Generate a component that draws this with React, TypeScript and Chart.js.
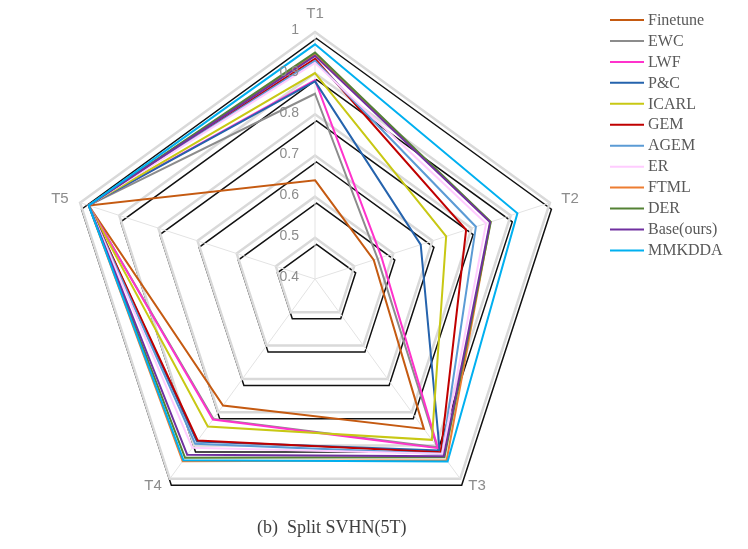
import React, { useEffect, useRef } from 'react';
import { Chart, registerables } from 'chart.js';

Chart.register(...registerables);

const axisLabels = ['T1', 'T2', 'T3', 'T4', 'T5'];
const tickValues = [0.4, 0.5, 0.6, 0.7, 0.8, 0.9, 1];
const tickLabels = ['0.4', '0.5', '0.6', '0.7', '0.8', '0.9', '1'];

const seriesNames = ['Finetune', 'EWC', 'LWF', 'P&C', 'ICARL', 'GEM', 'AGEM', 'ER', 'FTML', 'DER', 'Base(ours)', 'MMKDDA'];
const seriesColors = ['#C55A11', '#8C8C8C', '#FF33CC', '#2563AD', '#C8C814', '#C00000', '#5B9BD5', '#FFCCFF', '#ED7D31', '#548235', '#7030A0', '#00B0F0'];

const finetune = [0.64, 0.55, 0.85, 0.78, 0.978];
const ewc = [0.85, 0.56, 0.905, 0.82, 0.978];
const lwf = [0.883, 0.57, 0.908, 0.822, 0.978];
const pc = [0.88, 0.67, 0.915, 0.888, 0.978];
const icarl = [0.9, 0.735, 0.883, 0.843, 0.978];
const gem = [0.935, 0.786, 0.92, 0.885, 0.978];
const agem = [0.93, 0.811, 0.925, 0.895, 0.978];
const er = [0.925, 0.837, 0.925, 0.907, 0.978];
const ftml = [0.945, 0.848, 0.944, 0.947, 0.978];
const der = [0.95, 0.849, 0.935, 0.937, 0.978];
const base = [0.942, 0.847, 0.932, 0.928, 0.978];
const mmkdda = [0.97, 0.917, 0.948, 0.944, 0.978];

const seriesValues = [finetune, ewc, lwf, pc, icarl, gem, agem, er, ftml, der, base, mmkdda];

const caption = '(b)  Split SVHN(5T)';

const decorPlugin = {
  id: 'decor',
  beforeDraw(chart: any) {
    const scale = chart.scales.r;
    const ctx = chart.ctx;
    ctx.save();
    ctx.strokeStyle = '#111111';
    ctx.lineWidth = 1.5;
    tickValues.forEach((v) => {
      if (v <= scale.min) return;
      ctx.beginPath();
      axisLabels.forEach((_, i) => {
        const p = scale.getPointPositionForValue(i, v);
        if (i === 0) ctx.moveTo(p.x + 1.5, p.y + 6.5);
        else ctx.lineTo(p.x + 1.5, p.y + 6.5);
      });
      ctx.closePath();
      ctx.stroke();
    });
    ctx.restore();
  },
  afterDatasetsDraw(chart: any) {
    const scale = chart.scales.r;
    const ctx = chart.ctx;
    ctx.save();
    // tick labels
    ctx.fillStyle = '#8C8C8C';
    ctx.font = '14px "Liberation Sans"';
    ctx.textAlign = 'right';
    ctx.textBaseline = 'middle';
    tickValues.forEach((v, k) => {
      const p = scale.getPointPositionForValue(0, v);
      ctx.fillText(tickLabels[k], p.x - 16, p.y - 1.5);
    });
    // point labels
    ctx.fillStyle = '#8C8C8C';
    ctx.font = '15px "Liberation Sans"';
    axisLabels.forEach((lab, i) => {
      const p = scale.getPointPosition(i, scale.drawingArea + 12);
      const dx = p.x - scale.xCenter;
      if (Math.abs(dx) < 2) {
        ctx.textAlign = 'center';
        ctx.textBaseline = 'bottom';
        ctx.fillText(lab, p.x, p.y + 1);
      } else {
        ctx.textAlign = dx > 0 ? 'left' : 'right';
        ctx.textBaseline = 'middle';
        const below = p.y > scale.yCenter;
        ctx.fillText(lab, p.x + (below ? (dx > 0 ? 1 : -1) : 0), below ? p.y - 3 : p.y);
      }
    });
    ctx.restore();
  },
  afterDraw(chart: any) {
    const ctx = chart.ctx;
    ctx.save();
    // legend
    ctx.font = '16px "Liberation Serif"';
    ctx.textAlign = 'left';
    ctx.textBaseline = 'middle';
    seriesNames.forEach((name, i) => {
      const y = 20 + i * 20.95;
      ctx.strokeStyle = seriesColors[i];
      ctx.lineWidth = 2;
      ctx.beginPath();
      ctx.moveTo(610, y);
      ctx.lineTo(644, y);
      ctx.stroke();
      ctx.fillStyle = '#595959';
      ctx.fillText(name, 648, y + 0.5);
    });
    // caption
    ctx.font = '18px "Liberation Serif"';
    ctx.fillStyle = '#404040';
    ctx.textAlign = 'left';
    ctx.fillText(caption, 257, 528);
    ctx.restore();
  },
};

export default function App() {
  const ref = useRef<HTMLCanvasElement | null>(null);
  useEffect(() => {
    if (!ref.current) return;
    const n = seriesNames.length;
    const chart = new Chart(ref.current, {
      type: 'radar',
      data: {
        labels: axisLabels,
        datasets: seriesNames.map((name, i) => ({
          label: name,
          data: seriesValues[i],
          borderColor: seriesColors[i],
          backgroundColor: 'transparent',
          borderWidth: 2,
          pointRadius: 0,
          pointHoverRadius: 0,
          fill: false,
          tension: 0,
          order: n - i,
        })),
      },
      options: {
        responsive: false,
        animation: false,
        layout: { padding: { left: 68, right: 186, top: 32, bottom: 23 } },
        plugins: {
          legend: { display: false },
          tooltip: { enabled: false },
        },
        scales: {
          r: {
            min: 0.4,
            max: 1,
            ticks: { stepSize: 0.1, display: false, showLabelBackdrop: false },
            grid: { color: '#D9D9D9', lineWidth: 2.5, circular: false },
            angleLines: { color: '#E3E3E3', lineWidth: 1 },
            pointLabels: { display: false },
          },
        },
      },
      plugins: [decorPlugin],
    });
    return () => chart.destroy();
  }, []);
  return (
    <div style={{ position: 'fixed', left: 0, top: 0, width: 748, height: 549, background: '#fff' }}>
      <canvas ref={ref} width={748} height={549} style={{ display: 'block' }} />
    </div>
  );
}
